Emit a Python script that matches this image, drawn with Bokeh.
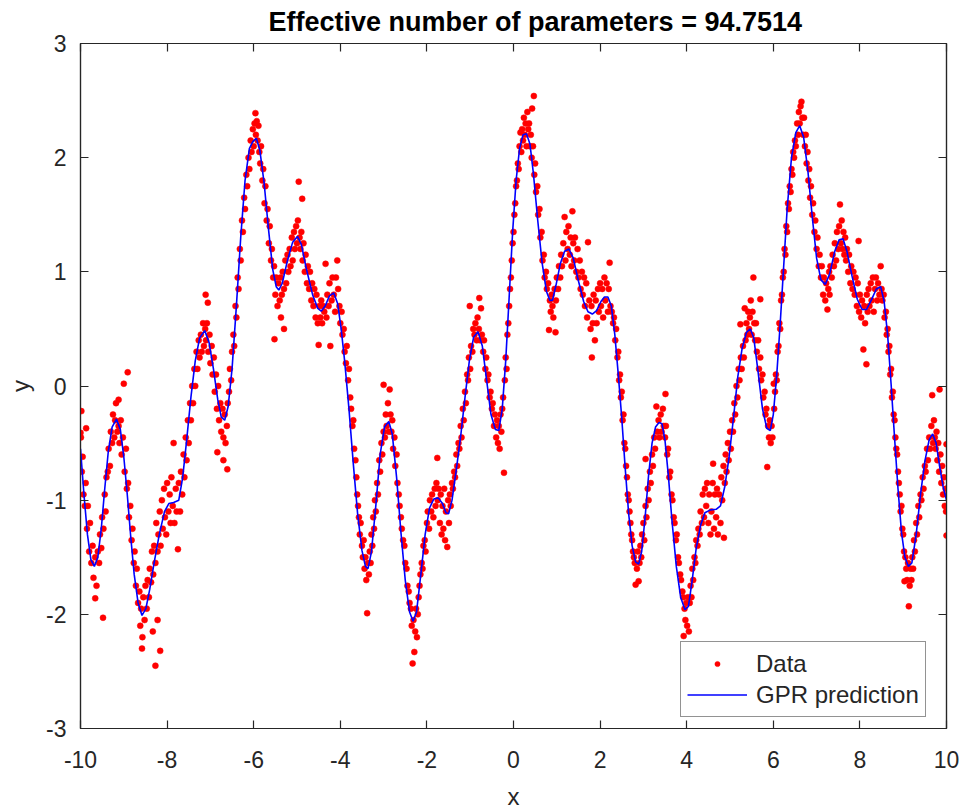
from bokeh.plotting import figure
from bokeh.models import LinearAxis, Legend, LegendItem, Range1d, FixedTicker
from bokeh.embed import file_html
from bokeh.resources import INLINE

title_text = "Effective number of parameters = 94.7514"
x_label = "x"
y_label = "y"
x_ticks = [-10, -8, -6, -4, -2, 0, 2, 4, 6, 8, 10]
y_ticks = [-3, -2, -1, 0, 1, 2, 3]
legend_labels = ["Data", "GPR prediction"]

# GPR prediction curve (x, y)
curve_points = [
    (-10.0, -0.55), (-9.92, -0.95), (-9.84, -1.3), (-9.76, -1.52), (-9.68, -1.58), (-9.60, -1.50),
    (-9.52, -1.25), (-9.44, -0.90), (-9.36, -0.58), (-9.27, -0.36), (-9.17, -0.29), (-9.08, -0.38),
    (-9.0, -0.62), (-8.92, -0.95), (-8.84, -1.32), (-8.76, -1.65), (-8.67, -1.90), (-8.58, -2.01),
    (-8.49, -1.95), (-8.40, -1.78), (-8.30, -1.55), (-8.18, -1.30), (-8.06, -1.10), (-7.96, -1.03),
    (-7.85, -1.02), (-7.73, -1.00), (-7.64, -0.80), (-7.55, -0.48), (-7.45, -0.10), (-7.35, 0.22),
    (-7.25, 0.42), (-7.13, 0.485), (-7.03, 0.38), (-6.93, 0.15), (-6.83, -0.12), (-6.75, -0.27),
    (-6.67, -0.30), (-6.59, -0.18), (-6.50, 0.15), (-6.40, 0.70), (-6.30, 1.30), (-6.20, 1.80),
    (-6.10, 2.08), (-6.02, 2.14), (-5.94, 2.17), (-5.86, 2.07), (-5.76, 1.78), (-5.66, 1.38),
    (-5.56, 1.02), (-5.48, 0.87), (-5.42, 0.84), (-5.34, 0.90), (-5.22, 1.10), (-5.10, 1.26),
    (-4.99, 1.31), (-4.90, 1.24), (-4.78, 1.02), (-4.64, 0.80), (-4.52, 0.68), (-4.44, 0.655),
    (-4.35, 0.70), (-4.25, 0.79), (-4.15, 0.815), (-4.06, 0.72), (-3.98, 0.50), (-3.90, 0.22),
    (-3.80, -0.20), (-3.70, -0.68), (-3.60, -1.12), (-3.50, -1.44), (-3.42, -1.58), (-3.36, -1.60),
    (-3.28, -1.45), (-3.18, -1.05), (-3.08, -0.60), (-2.98, -0.36), (-2.88, -0.31), (-2.80, -0.42),
    (-2.70, -0.80), (-2.60, -1.28), (-2.50, -1.70), (-2.40, -1.98), (-2.32, -2.06), (-2.24, -1.98),
    (-2.14, -1.65), (-2.04, -1.30), (-1.94, -1.07), (-1.84, -0.99), (-1.74, -0.98), (-1.64, -1.03),
    (-1.56, -1.11), (-1.50, -1.12), (-1.42, -1.00), (-1.32, -0.73), (-1.22, -0.44), (-1.12, -0.10),
    (-1.02, 0.22), (-0.92, 0.43), (-0.82, 0.475), (-0.72, 0.35), (-0.62, 0.05), (-0.52, -0.25),
    (-0.42, -0.38), (-0.34, -0.39), (-0.26, -0.20), (-0.18, 0.22), (-0.10, 0.78), (-0.02, 1.35),
    (0.06, 1.80), (0.14, 2.08), (0.22, 2.20), (0.30, 2.21), (0.38, 2.12), (0.46, 1.86),
    (0.56, 1.45), (0.66, 1.08), (0.76, 0.83), (0.84, 0.75), (0.90, 0.75), (0.98, 0.88),
    (1.08, 1.07), (1.18, 1.18), (1.28, 1.20), (1.38, 1.12), (1.50, 0.92), (1.62, 0.74),
    (1.72, 0.65), (1.82, 0.63), (1.92, 0.66), (2.02, 0.74), (2.10, 0.78), (2.18, 0.78),
    (2.26, 0.70), (2.34, 0.45), (2.42, 0.10), (2.50, -0.28), (2.58, -0.72), (2.66, -1.12),
    (2.74, -1.40), (2.82, -1.54), (2.89, -1.56), (2.96, -1.45), (3.04, -1.15), (3.12, -0.78),
    (3.20, -0.50), (3.28, -0.36), (3.36, -0.32), (3.43, -0.33), (3.50, -0.48), (3.58, -0.80),
    (3.66, -1.18), (3.76, -1.58), (3.86, -1.85), (3.96, -1.96), (4.04, -1.93), (4.12, -1.72),
    (4.22, -1.42), (4.32, -1.22), (4.42, -1.11), (4.55, -1.085), (4.68, -1.08), (4.78, -1.05),
    (4.88, -0.88), (4.98, -0.62), (5.08, -0.28), (5.18, 0.08), (5.28, 0.33), (5.38, 0.47),
    (5.47, 0.50), (5.55, 0.42), (5.65, 0.12), (5.75, -0.20), (5.85, -0.37), (5.93, -0.39),
    (6.00, -0.25), (6.08, 0.10), (6.16, 0.55), (6.24, 1.05), (6.32, 1.55), (6.42, 2.00),
    (6.52, 2.22), (6.61, 2.28), (6.70, 2.18), (6.80, 1.88), (6.90, 1.48), (7.00, 1.12),
    (7.10, 0.93), (7.20, 0.89), (7.30, 0.98), (7.42, 1.18), (7.52, 1.28), (7.61, 1.29),
    (7.70, 1.18), (7.82, 0.96), (7.94, 0.76), (8.05, 0.67), (8.15, 0.67), (8.26, 0.75),
    (8.38, 0.85), (8.48, 0.87), (8.56, 0.74), (8.64, 0.45), (8.72, 0.02), (8.80, -0.45),
    (8.88, -0.90), (8.96, -1.28), (9.04, -1.50), (9.12, -1.58), (9.20, -1.55), (9.30, -1.30),
    (9.40, -0.95), (9.50, -0.66), (9.60, -0.47), (9.68, -0.42), (9.76, -0.50), (9.84, -0.70),
    (9.92, -0.88), (10.0, -1.00),
]

data_part1 = [
    (-9.99, -0.45), (-9.97, -0.75), (-9.95, -0.62), (-9.93, -0.95), (-9.90, -1.05), (-9.88, -0.85),
    (-9.85, -1.25), (-9.83, -1.05), (-9.80, -1.45), (-9.78, -1.20), (-9.75, -1.55), (-9.72, -1.40),
    (-9.70, -1.68), (-9.66, -1.50), (-9.63, -1.75), (-9.60, -1.45), (-9.98, -0.22), (-9.87, -0.37),
    (-10.0, -0.41), (-9.48, -2.03), (-9.66, -1.86),
    (-9.57, -1.55), (-9.55, -1.30), (-9.52, -1.42), (-9.50, -1.15), (-9.47, -1.25), (-9.44, -0.95),
    (-9.42, -1.10), (-9.40, -0.80), (-9.37, -0.75), (-9.35, -0.55), (-9.32, -0.70), (-9.30, -0.40),
    (-9.27, -0.50), (-9.25, -0.25), (-9.22, -0.45), (-9.20, -0.30), (-9.18, -0.15), (-9.15, -0.40),
    (-8.91, 0.12), (-9.0, 0.02), (-9.12, -0.12),
    (-9.12, -0.35), (-9.10, -0.50), (-9.07, -0.30), (-9.05, -0.60), (-9.02, -0.45), (-8.98, -0.75),
    (-8.95, -0.55), (-8.93, -0.90), (-8.90, -0.85), (-8.88, -1.15), (-8.85, -1.05), (-8.82, -1.35),
    (-8.80, -1.25), (-8.77, -1.55), (-8.75, -1.45), (-8.72, -1.75), (-8.70, -1.60), (-8.67, -1.90),
    (-8.64, -1.80), (-8.62, -2.10), (-8.60, -1.95), (-8.57, -2.20), (-8.55, -1.85), (-8.58, -2.30),
    (-8.52, -2.05), (-8.50, -1.75), (-8.47, -1.95), (-8.45, -1.70), (-8.42, -1.85), (-8.40, -1.60),
    (-8.37, -1.72), (-8.35, -1.45), (-8.32, -1.65), (-8.30, -1.40), (-8.27, -1.55), (-8.25, -1.20),
    (-8.22, -1.45), (-8.20, -1.30), (-8.17, -1.10), (-8.15, -1.40), (-8.12, -1.00), (-8.10, -1.25),
    (-8.07, -0.90), (-8.05, -1.15), (-8.02, -1.30), (-8.00, -0.85), (-7.97, -1.10),
    (-8.27, -2.45), (-8.16, -2.32), (-8.33, -2.15), (-8.22, -2.05),
    (-7.94, -0.95), (-7.92, -1.20), (-7.90, -0.80), (-7.87, -1.05), (-7.85, -0.50), (-7.83, -1.20),
    (-7.80, -0.90), (-7.78, -1.10), (-7.75, -1.43), (-7.73, -0.85), (-7.70, -1.10), (-7.68, -0.75),
    (-7.65, -0.95), (-7.62, -0.60), (-7.60, -0.80), (-7.57, -0.45), (-7.55, -0.65), (-7.52, -0.30),
    (-7.50, -0.50), (-7.47, -0.15), (-7.45, -0.30), (-7.42, 0.00), (-7.40, -0.15), (-7.37, 0.15),
    (-7.35, 0.00), (-7.32, 0.30), (-7.30, 0.15), (-7.27, 0.40), (-7.25, 0.25), (-7.22, 0.45),
    (-7.20, 0.30), (-7.17, 0.55), (-7.15, 0.35), (-7.12, 0.50), (-7.11, 0.80), (-7.06, 0.73),
    (-7.10, 0.40), (-7.08, 0.55), (-7.05, 0.30), (-7.02, 0.45), (-7.00, 0.20), (-6.97, 0.35),
    (-6.95, 0.10), (-6.92, 0.25), (-6.90, -0.05), (-6.87, 0.10), (-6.85, -0.20), (-6.82, 0.00),
    (-6.80, -0.30), (-6.77, -0.15), (-6.75, -0.40), (-6.72, -0.20), (-6.70, -0.45), (-6.67, -0.25),
    (-6.65, -0.50), (-6.62, -0.35), (-6.61, -0.73), (-6.84, -0.58), (-6.70, -0.65),
    (-6.60, -0.15), (-6.57, -0.05), (-6.55, 0.15), (-6.52, 0.05), (-6.50, 0.30), (-6.47, 0.45),
    (-6.45, 0.35), (-6.42, 0.70), (-6.40, 0.60), (-6.37, 0.95), (-6.35, 0.85), (-6.32, 1.20),
    (-6.30, 1.10), (-6.27, 1.45), (-6.25, 1.35), (-6.22, 1.65), (-6.20, 1.55), (-6.17, 1.85),
    (-6.15, 1.75), (-6.12, 2.00), (-6.10, 1.90), (-6.07, 2.15), (-6.05, 2.05), (-6.02, 2.25),
    (-6.00, 2.10), (-5.98, 2.30), (-5.96, 2.39), (-5.95, 2.20), (-5.93, 2.32),
    (-5.91, 2.15), (-5.89, 2.28), (-5.87, 2.05), (-5.85, 1.95), (-5.83, 2.10), (-5.80, 1.80),
    (-5.78, 1.90), (-5.75, 1.60), (-5.73, 1.75), (-5.70, 1.45), (-5.68, 1.55), (-5.65, 1.25),
    (-5.63, 1.40), (-5.60, 1.10), (-5.58, 1.20), (-5.55, 0.95), (-5.53, 1.05), (-5.50, 0.80),
    (-5.48, 0.95), (-5.45, 0.70), (-5.43, 0.90), (-5.40, 0.75), (-5.52, 0.41), (-5.30, 0.50),
    (-5.37, 0.60),
    (-5.38, 0.95), (-5.35, 0.80), (-5.33, 1.00), (-5.30, 0.85), (-5.27, 1.10), (-5.25, 0.90),
    (-5.22, 1.15), (-5.20, 1.00), (-5.17, 1.20), (-5.15, 1.05), (-5.12, 1.30), (-5.10, 1.10),
    (-5.07, 1.35), (-5.05, 1.20), (-5.02, 1.40),
]

data_part2 = [
    (-5.00, 1.25), (-4.98, 1.45), (-4.96, 1.79), (-4.94, 1.30), (-4.88, 1.64),
    (-4.92, 1.20), (-4.90, 1.35), (-4.87, 1.10), (-4.85, 1.25), (-4.82, 1.00), (-4.80, 1.15),
    (-4.77, 0.90), (-4.75, 1.05), (-4.72, 0.85), (-4.70, 1.00), (-4.67, 0.75), (-4.65, 0.90),
    (-4.62, 0.70), (-4.60, 0.85), (-4.57, 0.60), (-4.55, 0.80), (-4.52, 0.55), (-4.50, 0.36),
    (-4.48, 0.70), (-4.46, 0.60), (-4.44, 0.75),
    (-4.42, 0.55), (-4.40, 0.70), (-4.37, 0.65), (-4.34, 1.07), (-4.32, 0.60), (-4.30, 0.80),
    (-4.27, 0.70), (-4.25, 0.90), (-4.23, 0.35), (-4.20, 0.75), (-4.18, 0.95), (-4.15, 0.80),
    (-4.12, 0.65), (-4.10, 0.95), (-4.07, 1.10), (-4.05, 0.85),
    (-4.02, 0.70), (-4.00, 0.55), (-3.97, 0.65), (-3.95, 0.45), (-3.92, 0.50), (-3.90, 0.30),
    (-3.87, 0.20), (-3.85, 0.35), (-3.82, 0.05), (-3.80, 0.15), (-3.77, -0.10), (-3.75, -0.20),
    (-3.72, -0.35), (-3.70, -0.30), (-3.68, -0.55), (-3.65, -0.65), (-3.63, -0.80), (-3.61, -0.95),
    (-3.59, -1.05), (-3.57, -1.15), (-3.55, -1.30), (-3.53, -1.20), (-3.50, -1.40), (-3.48, -1.50),
    (-3.46, -1.35), (-3.44, -1.60), (-3.42, -1.50), (-3.40, -1.70), (-3.38, -1.99), (-3.36, -1.55),
    (-3.34, -1.65), (-3.32, -1.45), (-3.30, -1.55), (-3.28, -1.30), (-3.26, -1.40), (-3.24, -1.15),
    (-3.22, -1.25), (-3.20, -1.00), (-3.18, -1.10), (-3.15, -0.85), (-3.13, -0.95), (-3.10, -0.65),
    (-3.08, -0.75), (-3.05, -0.50), (-3.03, -0.60), (-3.00, 0.01), (-3.00, -0.40), (-2.97, -0.45),
    (-2.95, -0.25), (-2.93, -0.35), (-2.90, -0.15), (-2.88, -0.40), (-2.86, -0.03), (-2.84, -0.25),
    (-2.82, -0.40), (-2.80, -0.30), (-2.78, -0.55), (-2.75, -0.45), (-2.73, -0.70), (-2.70, -0.60),
    (-2.68, -0.85), (-2.65, -0.95), (-2.63, -1.05), (-2.60, -1.15), (-2.58, -1.25), (-2.55, -1.35),
    (-2.52, -1.40), (-2.50, -1.55), (-2.47, -1.60), (-2.45, -1.75), (-2.42, -1.80), (-2.40, -1.90),
    (-2.37, -1.95), (-2.35, -2.10), (-2.33, -2.43), (-2.31, -2.05), (-2.29, -2.33), (-2.27, -2.15),
    (-2.25, -1.95), (-2.23, -2.20),
    (-2.21, -2.00), (-2.19, -1.85), (-2.17, -1.75), (-2.15, -1.65), (-2.12, -1.55), (-2.10, -1.60),
    (-2.08, -1.40), (-2.05, -1.35), (-2.03, -1.45), (-2.00, -1.20), (-1.98, -1.10), (-1.95, -1.25),
    (-1.93, -1.00), (-1.90, -1.10), (-1.88, -0.95), (-1.85, -1.15), (-1.82, -0.90), (-1.80, -1.05),
    (-1.78, -0.85), (-1.76, -0.63), (-1.75, -1.00), (-1.73, -0.90),
    (-1.70, -1.20), (-1.68, -0.95), (-1.66, -1.30), (-1.64, -1.05), (-1.62, -1.25), (-1.60, -0.90),
    (-1.58, -1.35), (-1.56, -1.10), (-1.53, -1.41), (-1.51, -1.00), (-1.49, -1.20),
    (-1.47, -0.95), (-1.45, -1.05), (-1.42, -0.85), (-1.40, -0.90), (-1.37, -0.75), (-1.35, -0.80),
    (-1.32, -0.60), (-1.30, -0.70), (-1.27, -0.50), (-1.25, -0.55), (-1.22, -0.35), (-1.20, -0.45),
    (-1.17, -0.20), (-1.15, -0.30), (-1.12, -0.05), (-1.10, -0.15), (-1.07, 0.10), (-1.05, 0.05),
    (-1.03, 0.25), (-1.01, 0.70), (-1.00, 0.15), (-0.98, 0.35), (-0.95, 0.30), (-0.93, 0.50),
    (-0.90, 0.45), (-0.88, 0.55), (-0.85, 0.40), (-0.83, 0.60), (-0.80, 0.50), (-0.79, 0.77),
    (-0.75, 0.68),
    (-0.77, 0.40), (-0.73, 0.45), (-0.70, 0.30), (-0.68, 0.40), (-0.65, 0.15), (-0.63, 0.25),
    (-0.60, 0.05), (-0.58, 0.10), (-0.55, -0.10), (-0.53, -0.05), (-0.50, -0.20), (-0.48, -0.15),
    (-0.45, -0.35), (-0.43, -0.25), (-0.40, -0.45), (-0.38, -0.30), (-0.36, -0.50), (-0.34, -0.35),
    (-0.32, -0.55), (-0.30, -0.25),
    (-0.28, -0.40), (-0.26, -0.20), (-0.24, -0.10), (-0.22, -0.76), (-0.20, 0.05), (-0.18, 0.25),
    (-0.16, 0.15), (-0.14, 0.45), (-0.12, 0.55), (-0.10, 0.70), (-0.08, 0.85), (-0.06, 0.95),
    (-0.04, 1.10), (-0.02, 1.25),
]

data_part3 = [
    (0.00, 1.35), (0.02, 1.50), (0.04, 1.60), (0.06, 1.75), (0.08, 1.80), (0.10, 1.95),
    (0.12, 1.90), (0.14, 2.10), (0.16, 2.22), (0.18, 2.05), (0.20, 2.25), (0.22, 2.15),
    (0.24, 2.35), (0.26, 2.20), (0.28, 2.30), (0.30, 2.10), (0.32, 2.40), (0.34, 2.25),
    (0.36, 2.30), (0.47, 2.54), (0.43, 2.43),
    (0.38, 2.10), (0.40, 2.20), (0.42, 2.00), (0.45, 2.10), (0.48, 1.85), (0.50, 1.95),
    (0.52, 1.70), (0.55, 1.75), (0.57, 1.50), (0.60, 1.55), (0.62, 1.30), (0.65, 1.35),
    (0.67, 1.10), (0.70, 1.15), (0.72, 0.95), (0.75, 1.00), (0.77, 0.85), (0.80, 0.90),
    (0.82, 0.49), (0.84, 0.75), (0.86, 0.65), (0.88, 0.80), (0.90, 0.70), (0.92, 0.60),
    (0.97, 0.47),
    (0.95, 0.85), (0.98, 0.75), (1.00, 0.95), (1.03, 0.85), (1.05, 1.05), (1.08, 0.95),
    (1.10, 1.15), (1.12, 1.05), (1.15, 1.25), (1.18, 1.48), (1.20, 1.10), (1.22, 1.35),
    (1.25, 1.20), (1.27, 1.40), (1.30, 1.15), (1.32, 1.30), (1.34, 1.05), (1.36, 1.53),
    (1.38, 1.25),
    (1.40, 1.10), (1.42, 1.30), (1.45, 1.00), (1.48, 1.20), (1.50, 0.95), (1.53, 1.10),
    (1.55, 0.85), (1.58, 1.00), (1.60, 0.80), (1.63, 0.95), (1.65, 0.70), (1.68, 0.90),
    (1.70, 0.60), (1.72, 1.26), (1.75, 0.75), (1.78, 0.50), (1.80, 0.70), (1.81, 0.25),
    (1.83, 0.55), (1.85, 0.80), (1.88, 0.40),
    (1.90, 0.75), (1.92, 0.55), (1.95, 0.85), (1.97, 0.65), (2.00, 0.90), (2.02, 0.70),
    (2.05, 0.85), (2.07, 0.60), (2.10, 0.95), (2.12, 0.75), (2.15, 0.90), (2.18, 0.65),
    (2.20, 0.85), (2.22, 1.08), (2.24, 0.70),
    (2.27, 0.65), (2.30, 0.55), (2.32, 0.60), (2.35, 0.40), (2.37, 0.50), (2.40, 0.25),
    (2.42, 0.30), (2.44, 0.05), (2.46, 0.10), (2.48, -0.10), (2.50, -0.05), (2.52, -0.30),
    (2.54, -0.25), (2.56, -0.50), (2.58, -0.55), (2.60, -0.70), (2.62, -0.80), (2.64, -0.95),
    (2.66, -1.00), (2.68, -1.10), (2.70, -1.20), (2.72, -1.30), (2.74, -1.35), (2.76, -1.45),
    (2.78, -1.50), (2.80, -1.55), (2.82, -1.74), (2.85, -1.60), (2.87, -1.45), (2.89, -1.71),
    (2.91, -1.55),
    (2.93, -1.40), (2.95, -1.50), (2.97, -1.30), (3.00, -1.20), (3.02, -1.35), (3.05, -0.64),
    (3.05, -1.05), (3.07, -1.15), (3.10, -0.90), (3.12, -1.00), (3.15, -0.75), (3.17, -0.85),
    (3.20, -0.60), (3.22, -0.70), (3.25, -0.45), (3.27, -0.55), (3.30, -0.18), (3.32, -0.40),
    (3.35, -0.30), (3.37, -0.45), (3.40, -0.25), (3.42, -0.40), (3.45, -0.20), (3.47, -0.35),
    (3.51, -0.07),
    (3.50, -0.45), (3.52, -0.35), (3.55, -0.60), (3.57, -0.55), (3.60, -0.80), (3.62, -0.75),
    (3.65, -0.95), (3.67, -1.00), (3.70, -1.15), (3.72, -1.20), (3.75, -1.35), (3.77, -1.30),
    (3.80, -1.50), (3.82, -1.55), (3.85, -1.65), (3.87, -1.70), (3.90, -1.80), (3.92, -1.85),
    (3.93, -2.19), (3.95, -1.95), (3.97, -2.05), (3.99, -1.90), (4.01, -2.10), (4.03, -1.85),
    (4.05, -2.15),
    (4.07, -1.90), (4.09, -1.75), (4.11, -1.85), (4.13, -1.60), (4.15, -1.70), (4.18, -1.50),
    (4.20, -1.55), (4.22, -1.35), (4.25, -1.40), (4.27, -1.25), (4.30, -1.30), (4.32, -1.10),
    (4.35, -1.20), (4.37, -0.95), (4.40, -1.15), (4.42, -0.90), (4.45, -1.05), (4.47, -0.85),
    (4.50, -1.20), (4.52, -0.95), (4.55, -1.30),
    (4.57, -1.10), (4.60, -0.85), (4.61, -0.68), (4.63, -1.25), (4.65, -0.95), (4.68, -1.15),
    (4.70, -0.90), (4.72, -1.30), (4.75, -0.95), (4.78, -1.20), (4.80, -0.80), (4.82, -1.00),
    (4.85, -0.70), (4.86, -1.33), (4.88, -0.85), (4.90, -0.60), (4.92, -0.75), (4.95, -0.50),
    (4.97, -0.65),
]

data_part4 = [
    (5.00, -0.40), (5.02, -0.55), (5.05, -0.30), (5.07, -0.40), (5.10, -0.15), (5.12, -0.25),
    (5.15, 0.00), (5.17, -0.10), (5.20, 0.15), (5.22, 0.05), (5.24, 0.54), (5.25, 0.25),
    (5.27, 0.15), (5.30, 0.35), (5.32, 0.25), (5.34, 0.68), (5.36, 0.40), (5.38, 0.55),
    (5.40, 0.45), (5.42, 0.65), (5.44, 0.50), (5.46, 0.60), (5.48, 0.75), (5.50, 0.45),
    (5.52, 0.65), (5.54, 0.95), (5.56, 0.55),
    (5.58, 0.40), (5.60, 0.55), (5.62, 0.30), (5.65, 0.40), (5.67, 0.15), (5.70, 0.76),
    (5.70, 0.25), (5.72, 0.05), (5.75, 0.10), (5.77, -0.10), (5.80, -0.05), (5.82, -0.25),
    (5.84, -0.20), (5.86, -0.71), (5.88, -0.35), (5.90, -0.45), (5.92, -0.30), (5.94, -0.50),
    (5.96, -0.35), (5.98, -0.45),
    (6.01, 0.02), (6.02, -0.20), (6.04, -0.05), (6.06, 0.10), (6.08, 0.05), (6.10, 0.30),
    (6.12, 0.35), (6.14, 0.55), (6.16, 0.50), (6.18, 0.75), (6.20, 0.80), (6.22, 0.95),
    (6.24, 1.00), (6.26, 1.20), (6.28, 1.15), (6.30, 1.40), (6.32, 1.35), (6.34, 1.60),
    (6.36, 1.55), (6.38, 1.75), (6.40, 1.70), (6.42, 1.90), (6.44, 1.85), (6.46, 2.05),
    (6.48, 2.00), (6.50, 2.15), (6.52, 2.10), (6.55, 2.30), (6.57, 2.20), (6.59, 2.40),
    (6.61, 2.30), (6.63, 2.45), (6.65, 2.49), (6.67, 2.35),
    (6.69, 2.20), (6.71, 2.35), (6.73, 2.10), (6.75, 2.20), (6.77, 1.95), (6.79, 2.05),
    (6.81, 1.80), (6.83, 1.90), (6.85, 1.65), (6.87, 1.75), (6.90, 1.50), (6.92, 1.60),
    (6.95, 1.35), (6.97, 1.45), (7.00, 1.20), (7.02, 1.30), (7.05, 1.05), (7.07, 1.15),
    (7.10, 0.95), (7.12, 1.05), (7.15, 0.80), (7.17, 0.95), (7.20, 0.75), (7.22, 0.90),
    (7.25, 0.67), (7.27, 0.85), (7.29, 1.00),
    (7.30, 0.80), (7.32, 1.05), (7.35, 0.95), (7.37, 1.15), (7.40, 1.05), (7.42, 1.25),
    (7.45, 1.10), (7.47, 1.35), (7.50, 1.20), (7.52, 1.40), (7.54, 1.59), (7.56, 1.25),
    (7.58, 1.45), (7.60, 1.20), (7.62, 1.35), (7.64, 1.15),
    (7.66, 1.30), (7.68, 1.10), (7.70, 1.20), (7.73, 1.00), (7.75, 1.15), (7.78, 0.90),
    (7.80, 1.05), (7.83, 0.85), (7.85, 1.00), (7.88, 0.80), (7.90, 0.95), (7.93, 0.70),
    (7.95, 0.90), (7.97, 1.27), (7.98, 0.65), (8.00, 0.80), (8.03, 0.60), (8.05, 0.75),
    (8.08, 0.32), (8.10, 0.70), (8.12, 0.55), (8.15, 0.19), (8.16, 0.80),
    (8.18, 0.65), (8.20, 0.85), (8.22, 0.70), (8.25, 0.90), (8.27, 0.75), (8.30, 0.95),
    (8.32, 0.65), (8.35, 0.85), (8.37, 0.95), (8.40, 0.75), (8.42, 0.90), (8.45, 0.80),
    (8.48, 1.05), (8.50, 0.85),
    (8.52, 0.75), (8.55, 0.80), (8.57, 0.60), (8.60, 0.65), (8.62, 0.45), (8.64, 0.50),
    (8.66, 0.30), (8.68, 0.35), (8.70, 0.10), (8.72, 0.15), (8.74, -0.10), (8.76, -0.05),
    (8.78, -0.25), (8.80, -0.30), (8.82, -0.45), (8.84, -0.55), (8.86, -0.60), (8.88, -0.75),
    (8.90, -0.85), (8.92, -0.95), (8.94, -1.10), (8.96, -1.05), (8.98, -1.25), (9.00, -1.30),
    (9.02, -1.45), (9.03, -1.71), (9.05, -1.50), (9.07, -1.60), (9.09, -1.70), (9.11, -1.55),
    (9.13, -1.93), (9.15, -1.75), (9.17, -1.60), (9.19, -1.70),
    (9.21, -1.50), (9.23, -1.60), (9.25, -1.35), (9.27, -1.45), (9.30, -1.20), (9.32, -1.30),
    (9.35, -1.05), (9.37, -1.15), (9.40, -0.95), (9.42, -1.00), (9.45, -0.80), (9.47, -0.90),
    (9.50, -0.70), (9.52, -0.75), (9.55, -0.55), (9.57, -0.65), (9.60, -0.45), (9.62, -0.55),
    (9.65, -0.35), (9.67, -0.08), (9.69, -0.50), (9.71, -0.30), (9.73, -0.45),
    (9.75, -0.55), (9.77, -0.40), (9.79, -0.65), (9.81, -0.50), (9.83, -0.75), (9.84, -0.03),
    (9.86, -0.60), (9.88, -0.85), (9.90, -0.70), (9.92, -0.95), (9.94, -0.80), (9.96, -1.05),
    (9.98, -0.90), (10.0, -1.31), (10.0, -0.51), (9.99, -1.10),
]

data_points = data_part1 + data_part2 + data_part3 + data_part4
data_x = [pt[0] for pt in data_points]
data_y = [pt[1] for pt in data_points]
curve_x = [pt[0] for pt in curve_points]
curve_y = [pt[1] for pt in curve_points]

FONT = "Liberation Sans"
AXIS_COLOR = "#262626"

p = figure(
    width=960, height=812,
    x_range=Range1d(-10, 10), y_range=Range1d(-3, 3),
    output_backend="svg", toolbar_location=None,
    min_border_left=80, min_border_right=14, min_border_top=43, min_border_bottom=84,
)
p.background_fill_color = "white"
p.border_fill_color = "white"
p.grid.visible = False
p.outline_line_color = AXIS_COLOR
p.outline_line_width = 1.2

# Title
p.title.text = title_text
p.title.align = "left"
p.title.offset = 188
p.title.vertical_align = "top"
p.title.text_font = FONT
p.title.text_font_style = "bold"
p.title.text_font_size = "27px"
p.title.text_color = "black"
p.title.standoff = 10


def style_main_axis(ax, ticks):
    ax.ticker = FixedTicker(ticks=ticks)
    ax.major_label_overrides = {t: str(t) for t in ticks}
    ax.axis_line_color = AXIS_COLOR
    ax.axis_line_width = 1.2
    ax.major_tick_line_color = AXIS_COLOR
    ax.major_tick_line_width = 1.2
    ax.major_tick_in = 8
    ax.major_tick_out = 0
    ax.minor_tick_line_color = None
    ax.major_label_text_font = FONT
    ax.major_label_text_color = AXIS_COLOR
    ax.major_label_text_font_size = "23px"
    ax.axis_label_text_font = FONT
    ax.axis_label_text_font_size = "24px"
    ax.axis_label_text_font_style = "normal"
    ax.axis_label_text_color = AXIS_COLOR


def style_mirror_axis(ax, ticks):
    # mirrored ticks on top/right edges, without labels
    ax.ticker = FixedTicker(ticks=[], minor_ticks=ticks)
    ax.axis_line_color = AXIS_COLOR
    ax.axis_line_width = 1.2
    ax.major_tick_line_color = None
    ax.minor_tick_line_color = AXIS_COLOR
    ax.minor_tick_line_width = 1.2
    ax.minor_tick_in = 8
    ax.minor_tick_out = 0
    ax.major_tick_out = 0
    ax.major_label_standoff = 0
    ax.axis_label_standoff = 0


style_main_axis(p.xaxis[0], x_ticks)
style_main_axis(p.yaxis[0], y_ticks)
p.xaxis[0].major_label_standoff = 22
p.yaxis[0].major_label_standoff = 14
p.xaxis[0].axis_label = x_label
p.yaxis[0].axis_label = y_label
p.xaxis[0].axis_label_standoff = 12
p.yaxis[0].axis_label_standoff = 9

top_axis = LinearAxis()
style_mirror_axis(top_axis, x_ticks)
p.add_layout(top_axis, "above")
right_axis = LinearAxis()
style_mirror_axis(right_axis, y_ticks)
p.add_layout(right_axis, "right")

r_data = p.scatter(data_x, data_y, size=6, marker="circle",
                   fill_color="#ff0000", line_color="#ff0000", line_width=0.5)
r_line = p.line(curve_x, curve_y, line_color="#0000ff", line_width=1.6)

legend = Legend(
    items=[LegendItem(label=legend_labels[0], renderers=[r_data]),
           LegendItem(label=legend_labels[1], renderers=[r_line])],
    location=(600, 11),
    label_text_font=FONT, label_text_font_size="24px", label_text_color=AXIS_COLOR,
    border_line_color=AXIS_COLOR, border_line_width=1.2,
    background_fill_color="white", background_fill_alpha=1.0,
    glyph_width=60, glyph_height=13, label_height=31, label_standoff=9,
    padding=6, spacing=0, margin=0,
)
p.add_layout(legend)

with open("out.html", "w") as f:
    f.write(file_html(p, INLINE))
